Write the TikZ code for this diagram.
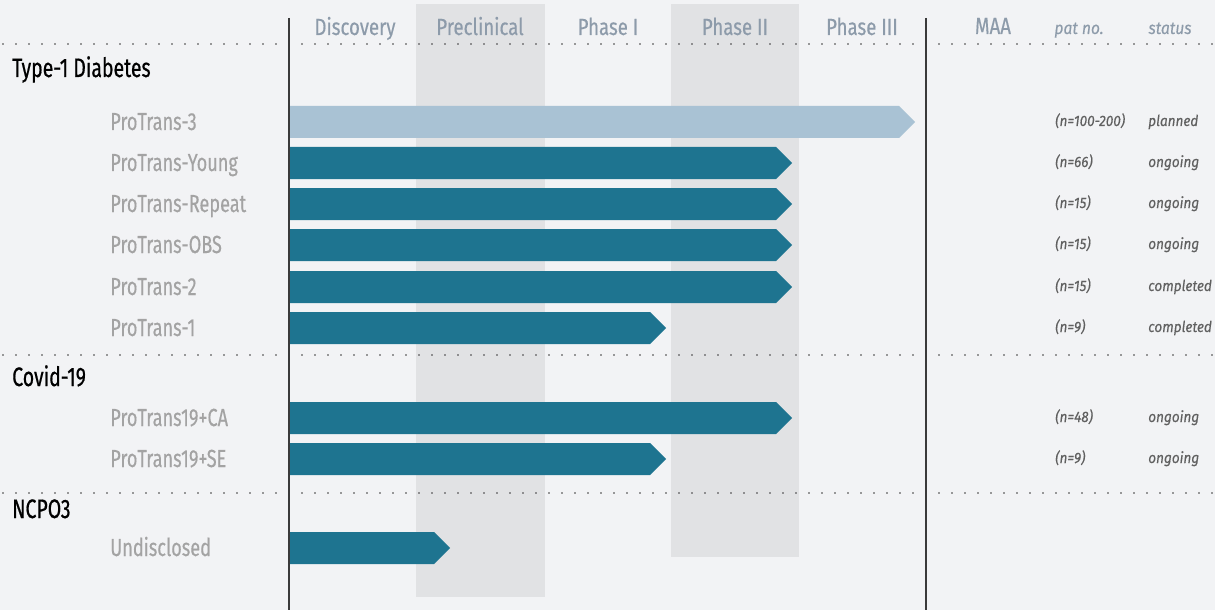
\documentclass[tikz,border=0pt]{standalone}
\usepackage{fontspec}
\setmainfont{Fira Sans}[FakeStretch=0.80, FakeBold=0.35]
\newfontfamily\labfont{Fira Sans}[FakeStretch=0.735, FakeBold=0.35]
\newfontfamily\grpfont{Fira Sans}[FakeStretch=0.73, FakeBold=0.6]
\newfontfamily\smallit{Fira Sans}[FakeStretch=0.9, FakeBold=0.3]
\definecolor{bgc}{HTML}{F2F3F5}
\definecolor{colshade}{HTML}{E1E2E4}
\definecolor{barteal}{HTML}{1E7490}
\definecolor{lightbar}{HTML}{A9C2D4}
\definecolor{headc}{HTML}{8D9BAA}
\definecolor{labc}{HTML}{A3A3A3}
\definecolor{linec}{HTML}{3A3A3A}
\definecolor{sidec}{HTML}{606060}
\tikzset{
  phasehead/.style={text=headc, font=\fontsize{17.5}{20}\selectfont, anchor=base},
  grouphead/.style={text=black, font=\grpfont\fontsize{20}{24}\selectfont, anchor=base west, inner sep=0pt},
  rowlab/.style={text=labc, font=\labfont\fontsize{18.5}{22}\selectfont, anchor=base west, inner sep=0pt},
  sidetxt/.style={text=sidec, font=\smallit\itshape\fontsize{11.3}{13}\selectfont, anchor=base west, inner sep=0pt},
  colhead/.style={text=headc, font=\smallit\itshape\fontsize{13}{15}\selectfont, anchor=base, inner sep=0pt},
  dotrule/.style={draw=linec, line width=1.2pt, line cap=round, dash pattern=on 0pt off 9.75pt},
  axisline/.style={draw=linec, line width=0.9pt},
}
\begin{document}
\begin{tikzpicture}[x=0.75pt, y=-0.75pt]
\fill[bgc] (0,0) rectangle (1215,610);
\useasboundingbox (0,0) rectangle (1215,610);
% shaded columns
\fill[colshade] (416,4) rectangle (545,597);
\fill[colshade] (671,4) rectangle (799,557);
% dotted rules
\coordinate (d1a) at (3,44); \coordinate (d1b) at (1215,44);
\coordinate (d2a) at (3,355); \coordinate (d2b) at (1215,355);
\coordinate (d3a) at (3,493); \coordinate (d3b) at (1215,493);
\draw[dotrule] (d1a) -- (d1b);
\draw[dotrule] (d2a) -- (d2b);
\draw[dotrule] (d3a) -- (d3b);
% axis lines
\coordinate (v1a) at (289,18); \coordinate (v1b) at (289,610);
\coordinate (v2a) at (926,18); \coordinate (v2b) at (926,610);
\draw[axisline] (v1a) -- (v1b);
\draw[axisline] (v2a) -- (v2b);
% headers
\node[phasehead] (hdisc) at (355,35) {Discovery};
\node[phasehead] (hpre) at (480,35) {Preclinical};
\node[phasehead] (hp1) at (608,35) {Phase I};
\node[phasehead] (hp2) at (735,35) {Phase II};
\node[phasehead] (hp3) at (862,35) {Phase III};
\node[phasehead] (hmaa) at (993,34) {MAA};
\node[colhead] (hpat) at (1079,34) {pat no.};
\node[colhead] (hstat) at (1170,34) {status};
% group headers
\node[grouphead] (g1) at (12,77) {Type-1 Diabetes};
\node[grouphead] (g2) at (12,386) {Covid-19};
\node[grouphead] (g3) at (12,518) {NCPO3};
% rows: y-center, end x, label, pat, status, colour
\foreach \n/\yc/\xe/\lab/\pat/\st/\col in {
  r1/122/915/ProTrans-3/(n=100-200)/planned/lightbar,
  r2/163/792/ProTrans-Young/(n=66)/ongoing/barteal,
  r3/204/792/ProTrans-Repeat/(n=15)/ongoing/barteal,
  r4/245/792/ProTrans-OBS/(n=15)/ongoing/barteal,
  r5/287/792/ProTrans-2/(n=15)/completed/barteal,
  r6/328/666/ProTrans-1/(n=9)/completed/barteal,
  r7/418/792/ProTrans19+CA/(n=48)/ongoing/barteal,
  r8/459/666/ProTrans19+SE/(n=9)/ongoing/barteal}
{
  \fill[\col] (290,\yc-16) -- (\xe-16,\yc-16) -- (\xe,\yc) -- (\xe-16,\yc+16) -- (290,\yc+16) -- cycle;
  \node[rowlab] (\n lab) at (110,\yc+8) {\lab};
  \node[sidetxt] (\n pat) at (1055,\yc+4) {\pat};
  \node[sidetxt] (\n st) at (1148,\yc+4) {\st};
}
\fill[barteal] (290,532) -- (434,532) -- (450,548) -- (434,564) -- (290,564) -- cycle;
\node[rowlab] (r9lab) at (110,556) {Undisclosed};
\end{tikzpicture}
\end{document}
